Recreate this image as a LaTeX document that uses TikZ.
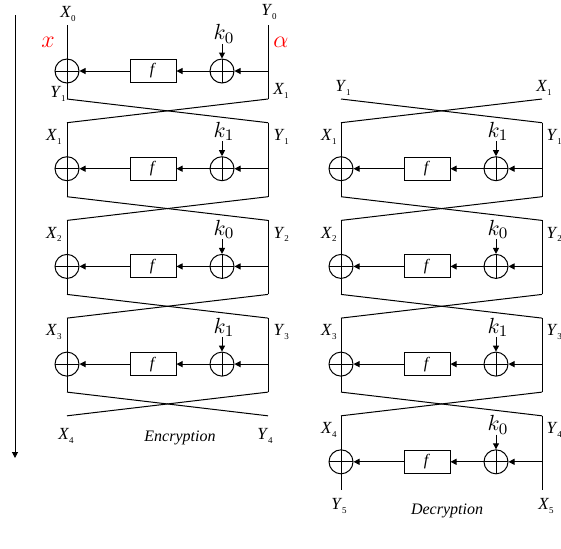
\documentclass[tikz,border=0pt]{standalone}
\usepackage{fontspec}
\setmainfont{Liberation Serif}[ItalicFont={Liberation Serif Italic}]
\usetikzlibrary{arrows.meta}

\tikzset{
  xor/.style={circle, draw, minimum size=12pt, inner sep=0pt,
    path picture={\draw (path picture bounding box.north) -- (path picture bounding box.south)
                        (path picture bounding box.east) -- (path picture bounding box.west);}},
  fbox/.style={draw, minimum width=23pt, minimum height=11.5pt, inner sep=0pt,
    font=\fontsize{8}{9}\selectfont},
  arr/.style={-{Triangle[length=3pt,width=3pt]}},
  lbl/.style={inner sep=0pt, font=\fontsize{8.5}{10}\selectfont},
  keylbl/.style={inner sep=0pt, font=\fontsize{11}{12}\selectfont},
  redlbl/.style={inner sep=0pt, text=red, font=\fontsize{12}{13}\selectfont},
  caption/.style={inner sep=0pt, font=\fontsize{8}{9}\selectfont}
}

\newcommand\XY[2]{\textit{#1}\raisebox{-0.45ex}{\fontsize{4.5}{5}\selectfont #2}}

\begin{document}
\begin{tikzpicture}[x=0.5pt, y=-0.5pt, line width=0.5pt]

\useasboundingbox (0,0) rectangle (561,548);

%% one round: name, left x, top y, key index
\newcommand\FRound[4]{%
  \coordinate (#1-lt) at (#2,#3);
  \coordinate (#1-lb) at (#2,#3+74);
  \coordinate (#1-rt) at (#2+201,#3);
  \coordinate (#1-rb) at (#2+201,#3+74);
  \coordinate (#1-rin) at (#2+201,#3+46);
  \node[xor] (#1-lx) at (#2,#3+46) {};
  \node[xor] (#1-rx) at (#2+155,#3+46) {};
  \node[fbox] (#1-f) at (#2+86,#3+46) {\textit{f}};
  \node[keylbl] (#1-k) at (#2+157,#3+9) {$k_{#4}$};
  \draw (#1-lt) -- (#1-lb);
  \draw (#1-rt) -- (#1-rb);
  \draw[arr] (#1-rin) -- (#1-rx);
  \draw[arr] (#1-rx) -- (#1-f);
  \draw[arr] (#1-f) -- (#1-lx);
  \draw[arr] (#1-k.south -| #1-rx) -- (#1-rx);
}

%% time arrow
\coordinate (tstart) at (15,15);
\coordinate (tend) at (15,458);
\draw[arr] (tstart) -- (tend);

%% encryption
\FRound{e1}{67}{25}{0}
\FRound{e2}{67}{122.7}{1}
\FRound{e3}{67}{220.4}{0}
\FRound{e4}{67}{318.1}{1}

\coordinate (eendl) at (67,415.8);
\coordinate (eendr) at (268,415.8);

\draw (e1-lb) -- (e2-rt);
\draw (e1-rb) -- (e2-lt);
\draw (e2-lb) -- (e3-rt);
\draw (e2-rb) -- (e3-lt);
\draw (e3-lb) -- (e4-rt);
\draw (e3-rb) -- (e4-lt);
\draw (e4-lb) -- (eendr);
\draw (e4-rb) -- (eendl);

\node[lbl] (eX0) at (68,14) {\XY{X}{0}};
\node[lbl] (eY0) at (269,12) {\XY{Y}{0}};
\node[redlbl] (ex) at (48,42) {$x$};
\node[redlbl] (ealpha) at (281,42) {$\alpha$};
\node[lbl] (eY1) at (58,94) {\XY{Y}{1}};
\node[lbl] (eX1) at (281,91) {\XY{X}{1}};

\node[lbl, anchor=east] (eX1b) at (62,136.7) {\XY{X}{1}};
\node[lbl, anchor=west] (eY1b) at (273,136.7) {\XY{Y}{1}};
\node[lbl, anchor=east] (eX2) at (62,234.4) {\XY{X}{2}};
\node[lbl, anchor=west] (eY2) at (273,234.4) {\XY{Y}{2}};
\node[lbl, anchor=east] (eX3) at (62,332.1) {\XY{X}{3}};
\node[lbl, anchor=west] (eY3) at (273,332.1) {\XY{Y}{3}};

\node[lbl] (eX4) at (66,436) {\XY{X}{4}};
\node[lbl] (eY4) at (265,436) {\XY{Y}{4}};
\node[caption] (enc) at (180,438) {\textit{Encryption}};

%% decryption
\FRound{d2}{341}{122.7}{1}
\FRound{d3}{341}{220.4}{0}
\FRound{d4}{341}{318.1}{1}
\FRound{d5}{341}{415.8}{0}

\coordinate (dstartl) at (341,99);
\coordinate (dstartr) at (542,99);

\draw (dstartl) -- (d2-rt);
\draw (dstartr) -- (d2-lt);
\draw (d2-lb) -- (d3-rt);
\draw (d2-rb) -- (d3-lt);
\draw (d3-lb) -- (d4-rt);
\draw (d3-rb) -- (d4-lt);
\draw (d4-lb) -- (d5-rt);
\draw (d4-rb) -- (d5-lt);

\node[lbl] (dY1) at (343,88) {\XY{Y}{1}};
\node[lbl] (dX1) at (544,88) {\XY{X}{1}};

\node[lbl, anchor=east] (dX1b) at (337,136.7) {\XY{X}{1}};
\node[lbl, anchor=west] (dY1b) at (546,136.7) {\XY{Y}{1}};
\node[lbl, anchor=east] (dX2) at (337,234.4) {\XY{X}{2}};
\node[lbl, anchor=west] (dY2) at (546,234.4) {\XY{Y}{2}};
\node[lbl, anchor=east] (dX3) at (337,332.1) {\XY{X}{3}};
\node[lbl, anchor=west] (dY3) at (546,332.1) {\XY{Y}{3}};
\node[lbl, anchor=east] (dX4) at (337,429.8) {\XY{X}{4}};
\node[lbl, anchor=west] (dY4) at (546,429.8) {\XY{Y}{4}};

\node[lbl] (dY5) at (339,506) {\XY{Y}{5}};
\node[lbl] (dX5) at (546,506) {\XY{X}{5}};
\node[caption] (dec) at (447,511) {\textit{Decryption}};

\end{tikzpicture}
\end{document}
